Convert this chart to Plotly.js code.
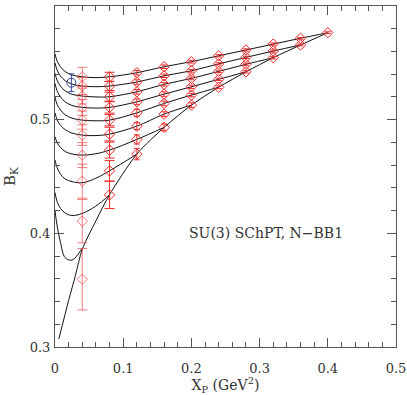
<!DOCTYPE html>
<html>
<head>
<meta charset="utf-8">
<script src="https://cdn.plot.ly/plotly-3.0.1.min.js"></script>
<style>html,body{margin:0;padding:0;background:#fff;}#chart{width:407px;height:395px;}</style>
</head>
<body>
<div id="chart"></div>
<script>
// Sample grid of X_P used for the fit curves
const curveX = [0, 0.003, 0.008, 0.015, 0.025, 0.04, 0.06, 0.08, 0.12, 0.16, 0.20, 0.24, 0.28, 0.32, 0.36, 0.40];

// Fit curves (fixed heavier valence mass), values read at curveX
const curve1  = [0.420, 0.407, 0.392, 0.3785, 0.3765, 0.387];
const curve2  = [0.436, 0.428, 0.422, 0.4178, 0.4157, 0.4175, 0.4240, 0.4338];
const curve3  = [0.4645, 0.458, 0.452, 0.4478, 0.4455, 0.4445, 0.4485, 0.4550, 0.4697];
const curve4  = [0.485, 0.480, 0.4755, 0.472, 0.4698, 0.4688, 0.4700, 0.4732, 0.4826, 0.4932];
const curve5  = [0.506, 0.500, 0.495, 0.4912, 0.4882, 0.4864, 0.4860, 0.4873, 0.4943, 0.5049, 0.5128];
const curve6  = [0.520, 0.5135, 0.5085, 0.5043, 0.5013, 0.4996, 0.4990, 0.4996, 0.5060, 0.5143, 0.5216, 0.5285];
const curve7  = [0.532, 0.5255, 0.520, 0.5156, 0.5125, 0.5108, 0.5102, 0.5108, 0.5157, 0.5225, 0.5289, 0.5355, 0.5421];
const curve8  = [0.541, 0.5347, 0.5295, 0.5253, 0.5223, 0.5208, 0.5200, 0.5202, 0.5245, 0.5311, 0.5363, 0.5425, 0.5487, 0.5545];
const curve9  = [0.550, 0.5437, 0.5385, 0.5343, 0.5313, 0.5296, 0.5290, 0.5296, 0.5331, 0.5386, 0.5430, 0.5491, 0.5548, 0.5604, 0.5657];
const curve10 = [0.558, 0.5517, 0.5465, 0.5423, 0.5393, 0.5377, 0.5370, 0.5377, 0.5413, 0.5466, 0.5510, 0.5562, 0.5613, 0.5665, 0.5716, 0.5765];

// Degenerate-mass curve
const degX = [0.0056, 0.02, 0.03, 0.04, 0.06, 0.08, 0.12, 0.16, 0.20, 0.24, 0.28, 0.32, 0.36, 0.40];
const degY = [0.307, 0.341, 0.363, 0.386, 0.411, 0.434, 0.4697, 0.4932, 0.5128, 0.5285, 0.5421, 0.5545, 0.5657, 0.5765];

// Lattice data points, by column of X_P
const colX = [0.04, 0.08, 0.12, 0.16, 0.20, 0.24, 0.28, 0.32, 0.36, 0.40];
const colY = [
  [0.5377, 0.5296, 0.5208, 0.5108, 0.4996, 0.4864, 0.4688, 0.4459, 0.4107, 0.3596],
  [0.5377, 0.5296, 0.5202, 0.5108, 0.4996, 0.4873, 0.4732, 0.4550, 0.4338],
  [0.5413, 0.5331, 0.5245, 0.5157, 0.5060, 0.4943, 0.4826, 0.4697],
  [0.5466, 0.5386, 0.5311, 0.5225, 0.5143, 0.5049, 0.4932],
  [0.5510, 0.5430, 0.5363, 0.5289, 0.5216, 0.5128],
  [0.5562, 0.5491, 0.5425, 0.5355, 0.5285],
  [0.5613, 0.5548, 0.5487, 0.5421],
  [0.5665, 0.5604, 0.5545],
  [0.5716, 0.5657],
  [0.5765]
];
const colErr = [
  [0.0083, 0.0075, 0.007, 0.007, 0.008, 0.009, 0.011, 0.015, 0.019, 0.027],
  [0.004, 0.004, 0.004, 0.005, 0.005, 0.006, 0.007, 0.009, 0.012],
  [0.002, 0.002, 0.002, 0.0025, 0.003, 0.003, 0.004, 0.005],
  [0.0015, 0.0015, 0.0015, 0.002, 0.002, 0.002, 0.003],
  [0.0012, 0.0012, 0.0012, 0.0015, 0.0015, 0.002],
  [0.001, 0.001, 0.001, 0.001, 0.0012],
  [0.001, 0.001, 0.001, 0.001],
  [0.001, 0.001, 0.001],
  [0.0008, 0.0008],
  [0.0008]
];

// Physical (blue) point
const physX = [0.024];
const physY = [0.5325];
const physErr = [0.0078];

const labelText = 'SU(3) SChPT, N\u2212BB1';
const xTitle = 'X<sub>P</sub> (GeV<sup>2</sup>)';
const yTitle = 'B<sub>K</sub>';

const traces = [];
const curves = [curve1, curve2, curve3, curve4, curve5, curve6, curve7, curve8, curve9, curve10];
curves.forEach(c => {
  traces.push({x: curveX.slice(0, c.length), y: c, mode: 'lines', type: 'scatter',
    line: {color: '#111', width: 1, shape: 'spline', smoothing: 1}, hoverinfo: 'skip', showlegend: false});
});
traces.push({x: degX, y: degY, mode: 'lines', type: 'scatter',
  line: {color: '#111', width: 1, shape: 'spline', smoothing: 0.8}, showlegend: false});

colX.forEach((xv, i) => {
  const col = i === 0 ? 'rgba(240,70,70,0.7)' : '#ee2b2b';
  traces.push({x: colY[i].map(() => xv), y: colY[i], mode: 'markers', type: 'scatter',
    marker: {symbol: 'diamond-open', size: 8, color: col, line: {width: 1, color: col}},
    error_y: {type: 'data', array: colErr[i], visible: true, color: col, thickness: 1, width: i < 2 ? 5 : 3},
    showlegend: false});
});

traces.push({x: physX, y: physY, mode: 'markers', type: 'scatter',
  marker: {symbol: 'circle-open', size: 9, color: '#3a45a0', line: {width: 1, color: '#3a45a0'}},
  error_y: {type: 'data', array: physErr, visible: true, color: '#3a45a0', thickness: 1, width: 3},
  showlegend: false});

const fontFam = '"DejaVu Serif", "Liberation Serif", serif';
const axisCommon = {
  showgrid: false, zeroline: false, showline: true, linecolor: '#555', linewidth: 1,
  mirror: 'allticks', ticks: 'inside', ticklen: 9, tickcolor: '#555', tickwidth: 1,
  tickfont: {family: fontFam, size: 13, color: '#333'}
};

const layout = {
  width: 407, height: 395,
  margin: {l: 55, r: 11, t: 6, b: 48},
  paper_bgcolor: '#fff', plot_bgcolor: '#fff',
  xaxis: Object.assign({}, axisCommon, {
    range: [0, 0.5], dtick: 0.1, tick0: 0, ticklabelstandoff: 9,
    minor: {dtick: 0.02, ticks: 'inside', ticklen: 5, tickcolor: '#555'},
    title: {text: xTitle, font: {family: fontFam, size: 14, color: '#333'}, standoff: 3}
  }),
  yaxis: Object.assign({}, axisCommon, {
    range: [0.3, 0.6], dtick: 0.1, tick0: 0.3, ticklabelstandoff: 1,
    minor: {dtick: 0.02, ticks: 'inside', ticklen: 5, tickcolor: '#555'},
    title: {text: yTitle, font: {family: fontFam, size: 15, color: '#333'}, standoff: 10}
  }),
  annotations: [{
    x: 0.194, y: 0.400, xref: 'x', yref: 'y', xanchor: 'left', yanchor: 'middle',
    text: labelText, showarrow: false, font: {family: fontFam, size: 14, color: '#333'}
  }]
};

Plotly.newPlot('chart', traces, layout, {displayModeBar: false, staticPlot: true});
</script>
</body>
</html>
